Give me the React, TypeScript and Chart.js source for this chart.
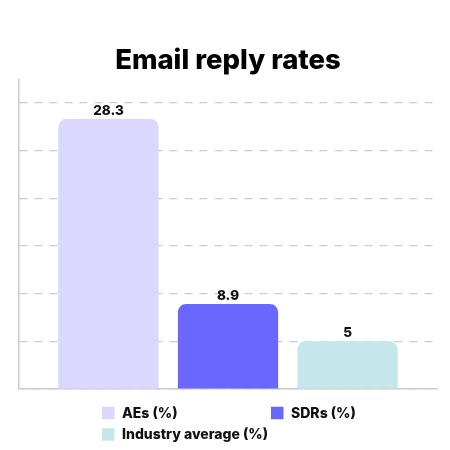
import React, { useEffect, useRef } from "react";
import { Chart, registerables } from "chart.js";

Chart.register(...registerables);

const categories = [""];
const seriesNames = ["AEs (%)", "SDRs (%)", "Industry average (%)"];
const seriesValues = [28.3, 8.9, 5];
const seriesColors = ["#DAD8FC", "#6A67FE", "#C5E7EC"];
const yTickStep = 5;
const yMax = 32.4;
const titleText = "Email reply rates";

const FONT = "Inter, 'Noto Sans', sans-serif";

const valueLabels = {
  id: "valueLabels",
  afterDatasetsDraw(chart: any) {
    const ctx = chart.ctx;
    ctx.save();
    ctx.font = `800 13.5px ${FONT}`;
    ctx.fillStyle = "#111111";
    ctx.textAlign = "center";
    ctx.textBaseline = "alphabetic";
    chart.data.datasets.forEach((ds: any, i: number) => {
      const meta = chart.getDatasetMeta(i);
      meta.data.forEach((el: any, j: number) => {
        ctx.fillText(String(ds.data[j]), el.x, el.y - 4);
      });
    });
    ctx.restore();
  },
};

const gridLegend = {
  id: "gridLegend",
  afterDraw(chart: any) {
    const ctx = chart.ctx;
    const area = chart.chartArea;
    const cols = [94, 263];
    const rowH = 21.5;
    const top = area.bottom + 24;
    const box = 12.5;
    ctx.save();
    ctx.font = `800 14px ${FONT}`;
    ctx.textBaseline = "middle";
    ctx.textAlign = "left";
    chart.data.datasets.forEach((ds: any, i: number) => {
      const col = i % 2;
      const row = Math.floor(i / 2);
      const x = cols[col];
      const cy = top + row * rowH;
      ctx.fillStyle = ds.backgroundColor;
      ctx.fillRect(x, cy - box / 2, box, box);
      ctx.fillStyle = "#111111";
      ctx.fillText(ds.label, x + 20, cy + 0.5);
    });
    ctx.restore();
  },
};

export default function App() {
  const ref = useRef<HTMLCanvasElement | null>(null);
  useEffect(() => {
    if (!ref.current) return;
    const chart = new Chart(ref.current, {
      type: "bar",
      data: {
        labels: categories,
        datasets: seriesNames.map((name, i) => ({
          label: name,
          data: [seriesValues[i]],
          backgroundColor: seriesColors[i],
          borderRadius: { topLeft: 8, topRight: 8, bottomLeft: 0, bottomRight: 0 },
          borderSkipped: "bottom",
          categoryPercentage: 0.858,
          barPercentage: 0.839,
        })),
      },
      options: {
        animation: false,
        responsive: true,
        maintainAspectRatio: false,
        layout: { padding: { left: 11, right: 5, top: 0, bottom: 53 } },
        plugins: {
          legend: { display: false },
          tooltip: { enabled: false },
          title: {
            display: true,
            text: titleText,
            color: "#000000",
            font: { family: FONT, size: 27.5, weight: "800" as any, lineHeight: 1.2 },
            padding: { top: 36, bottom: 3 },
          },
        },
        scales: {
          x: {
            ticks: { display: false },
            grid: { display: false, drawTicks: false },
            border: { display: true, color: "#CCCCCC", width: 1.5 },
          },
          y: {
            min: 0,
            max: yMax,
            ticks: { display: false, stepSize: yTickStep, includeBounds: false },
            grid: { color: "#CCCCCC", lineWidth: 1.2, drawTicks: false },
            border: { display: true, color: "#CCCCCC", width: 1.5, dash: [8, 7] },
          },
        },
      },
      plugins: [valueLabels, gridLegend],
    });
    return () => chart.destroy();
  }, []);
  return (
    <div style={{ width: 434, height: 434, position: "relative" }}>
      <canvas ref={ref} />
    </div>
  );
}
